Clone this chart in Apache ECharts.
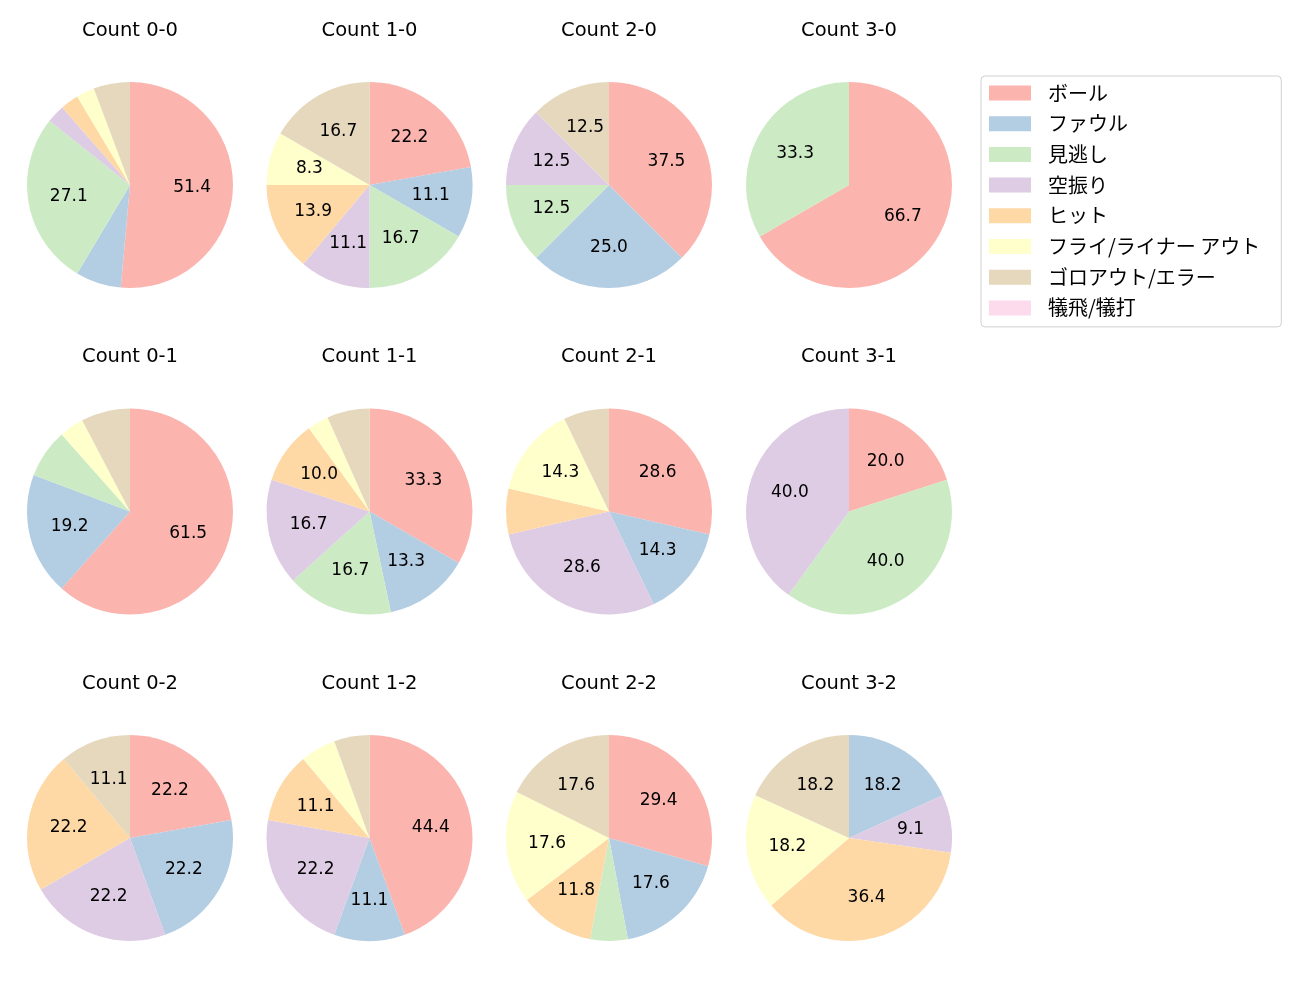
<!DOCTYPE html>
<html>
<head>
<meta charset="utf-8">
<script src="https://cdn.jsdelivr.net/npm/echarts@6/dist/echarts.min.js"></script>
<style>
html,body{margin:0;padding:0;background:#fff;}
#chart{width:1300px;height:1000px;}
</style>
</head>
<body>
<div id="chart"></div>
<script>
const categories = ['ボール','ファウル','見逃し','空振り','ヒット','フライ/ライナー アウト','ゴロアウト/エラー','犠飛/犠打'];
const colors = ['#fbb4ae','#b3cde3','#ccebc5','#decbe4','#fed9a6','#ffffcc','#e5d8bd','#fddaec'];

const titles = ['Count 0-0','Count 1-0','Count 2-0','Count 3-0',
                'Count 0-1','Count 1-1','Count 2-1','Count 3-1',
                'Count 0-2','Count 1-2','Count 2-2','Count 3-2'];

const count00 = [36,5,19,2,2,2,4,0];
const count10 = [8,4,6,4,5,3,6,0];
const count20 = [3,2,1,1,0,0,1,0];
const count30 = [2,0,1,0,0,0,0,0];
const count01 = [16,5,2,0,0,1,2,0];
const count11 = [10,4,5,5,3,1,2,0];
const count21 = [4,2,0,4,1,2,1,0];
const count31 = [1,0,2,2,0,0,0,0];
const count02 = [2,2,0,2,2,0,1,0];
const count12 = [8,2,0,4,2,1,1,0];
const count22 = [5,3,1,0,2,3,3,0];
const count32 = [0,2,0,1,4,2,2,0];

const allCounts = [count00,count10,count20,count30,count01,count11,count21,count31,count02,count12,count22,count32];

const FONT_JP = '"Noto Sans CJK JP", "Noto Sans", sans-serif';
const FONT_LAT = '"DejaVu Sans", "Noto Sans", sans-serif';
const colX = [130, 369.5, 609, 849];
const rowY = [185, 511.5, 838];
const R = 103;
const LABEL_MIN = 8;

const series = [];
const titleList = [];
allCounts.forEach((vals, i) => {
  const cx = colX[i % 4], cy = rowY[Math.floor(i / 4)];
  const data = categories.map((name, k) => ({name: name, value: vals[k], itemStyle: {color: colors[k]}}));
  series.push({
    type: 'pie', center: [cx, cy], radius: [0, R], startAngle: 90, clockwise: true,
    silent: true, animation: false, label: {show: false}, labelLine: {show: false},
    emphasis: {disabled: true},
    data: data
  });
  titleList.push({
    text: titles[i], left: cx, top: cy - R - 61.5, textAlign: 'center', padding: 0,
    textStyle: {fontFamily: FONT_LAT, fontSize: 19.5, fontWeight: 'normal', color: '#000'}
  });
});
// label layer: transparent pies, larger radius so inside labels sit near 0.6R
allCounts.forEach((vals, i) => {
  const cx = colX[i % 4], cy = rowY[Math.floor(i / 4)];
  const total = vals.reduce((a, b) => a + b, 0);
  const data = categories.map((name, k) => ({name: name + ' ', value: vals[k]}));
  series.push({
    type: 'pie', center: [cx, cy], radius: [0, R * 1.15], startAngle: 90, clockwise: true,
    silent: true, animation: false, legendHoverLink: false,
    itemStyle: {color: 'rgba(0,0,0,0)'},
    labelLine: {show: false},
    emphasis: {disabled: true},
    label: {
      show: true, position: 'inside', fontFamily: FONT_LAT, fontSize: 17, color: '#000',
      formatter: function (p) {
        const pct = p.value / total * 100;
        return pct >= LABEL_MIN ? pct.toFixed(1) : '';
      }
    },
    data: data
  });
});

const option = {
  backgroundColor: '#fff',
  animation: false,
  title: titleList,
  legend: {
    data: categories, orient: 'vertical', left: 981, top: 76,
    itemWidth: 42, itemHeight: 15, itemGap: 10.7, icon: 'rect',
    padding: [7, 21, 9, 8],
    borderColor: '#d0d0d0', borderWidth: 1, borderRadius: 4,
    selectedMode: false,
    textStyle: {fontFamily: FONT_JP, fontSize: 20, lineHeight: 20, color: '#000', padding: [0, 0, 0, 12]}
  },
  series: series
};
const chart = echarts.init(document.getElementById('chart'), null, {renderer: 'canvas'});
chart.setOption(option);
</script>
</body>
</html>
